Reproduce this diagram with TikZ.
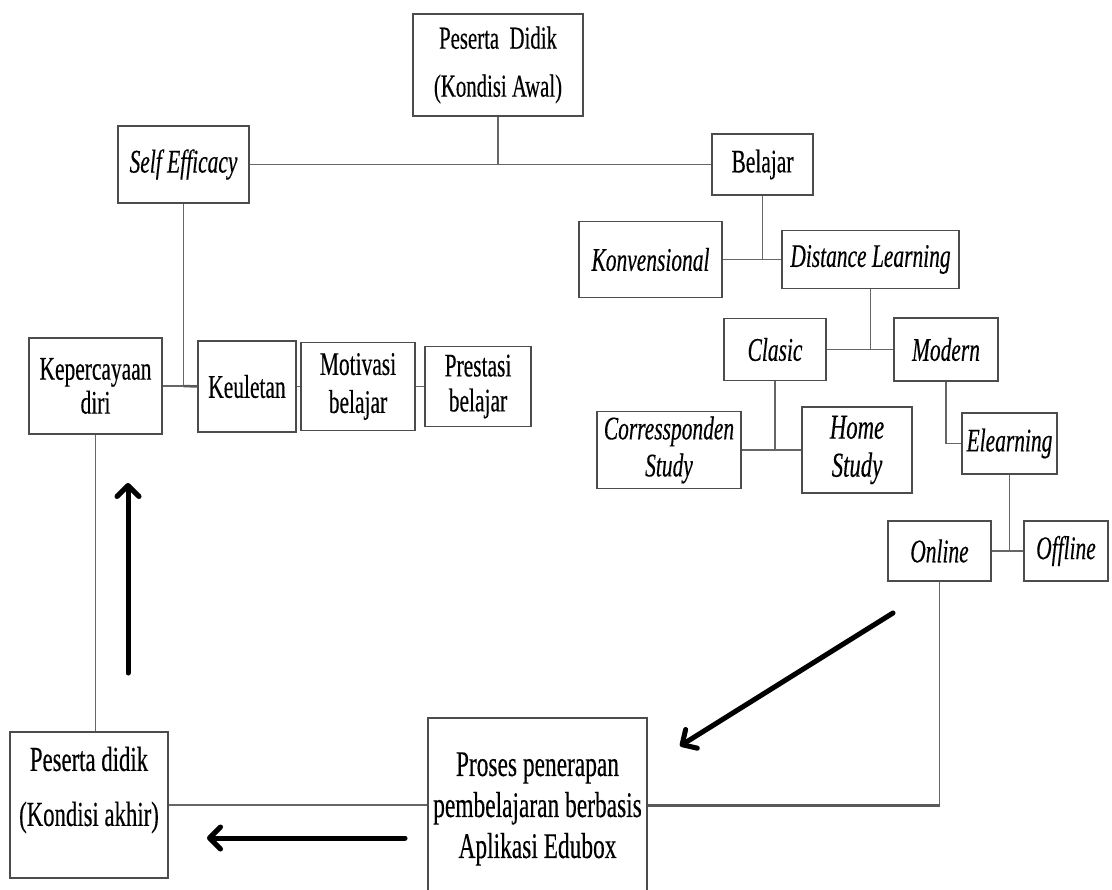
\documentclass[tikz,border=0pt]{standalone}
\usepackage{fontspec}
\setmainfont{Liberation Serif}[FakeStretch=0.65,FakeBold=0.3]
\usetikzlibrary{arrows.meta}
\newcommand\fsz[2]{\fontsize{#1}{#2}\selectfont}
\begin{document}
\begin{tikzpicture}[x=1pt,y=-1pt,
  box/.style={draw=black!70, line width=1.3pt, inner sep=0pt, align=center, font=\fsz{33}{38}},
  it/.style={font=\fsz{33}{38}\itshape},
  wh/.style 2 args={minimum width=#1pt, minimum height=#2pt},
  conn/.style={draw=black!60, line width=1.3pt},
  heavy/.style={draw=black!65, line width=3pt},
  bigarrow/.style={line width=5pt, line cap=round, -{Straight Barb[length=11pt,width=22pt,round]}},
  shade/.style={bigarrow, draw=black!25, opacity=0.5}]
\useasboundingbox (0,0) rectangle (1112,890);
\clip (0,0) rectangle (1112,890);
% nodes
\node[box,wh={170}{102},font=\fsz{32}{48}] (pda) at (498,65) {Peserta\ \ Didik\\(Kondisi Awal)};
\node[box,it,wh={131}{77}] (se) at (183.5,164.5) {Self Efficacy};
\node[box,wh={101}{61}] (bel) at (762.5,164.5) {Belajar};
\node[box,it,wh={143}{76}] (konv) at (650.5,259.5) {Konvensional};
\node[box,it,wh={177}{58}] (dl) at (870.5,259.5) {Distance Learning};
\node[box,it,wh={102}{62}] (cla) at (775,349.5) {Clasic};
\node[box,it,wh={104}{63}] (mod) at (946,349.5) {Modern};
\node[box,wh={144}{77},font=\fsz{33}{37}\itshape] (cor) at (669,450) {Corressponden\\Study};
\node[box,wh={110}{86},font=\fsz{35}{38}\itshape] (home) at (857,450) {Home\\Study};
\node[box,it,wh={95}{61}] (ele) at (1009.5,443.5) {Elearning};
\node[box,it,wh={103}{60}] (onl) at (939.5,551) {Online};
\node[box,it,wh={84}{60}] (off) at (1066,551) {Offline};
\node[box,wh={133}{96},font=\fsz{33}{34}] (kep) at (95.5,386) {Kepercayaan\\diri};
\node[box,wh={98}{91}] (keu) at (247,386.5) {Keuletan};
\node[box,wh={114}{88},font=\fsz{33}{38}] (mot) at (358,386.5) {Motivasi\\belajar};
\node[box,wh={106}{80},font=\fsz{33}{35}] (pre) at (478,386.5) {Prestasi\\belajar};
\node[box,wh={158}{146}] (pdk) at (89,805) {};
\node[align=center,font=\fsz{35}{55},inner sep=0pt] (pdkt) at (89,790) {Peserta didik\\(Kondisi akhir)};
\node[box,wh={219}{182},font=\fsz{36}{41}] (pro) at (537.5,809) {Proses penerapan\\pembelajaran berbasis\\Aplikasi Edubox};
% connectors
\draw[conn] (pda.south) -- (pda.south |- se.east);
\draw[conn] (se.east) -- (bel.west);
\draw[conn] (bel.south) -- (bel.south |- konv.east);
\draw[conn] (konv.east) -- (dl.west);
\draw[conn] (dl.south) -- (dl.south |- cla.east);
\draw[conn] (cla.east) -- (mod.west);
\draw[conn] (cla.south) -- (cla.south |- cor.east);
\draw[conn] (cor.east) -- (home.west);
\draw[conn] (mod.south) |- (ele.west);
\draw[conn] (ele.south) -- (ele.south |- onl.east);
\draw[conn] (onl.east) -- (off.west);
\coordinate (corner) at (onl.south |- pdk.east);
\draw[conn] (onl.south) -- (corner);
\draw[heavy] (corner) -- (corner -| pro.east);
\draw[conn] (pdk.east) -- (pdk.east -| pro.west);
\draw[conn] (kep.south) -- (kep.south |- pdk.north);
\coordinate (sej) at (se.south |- kep.east);
\draw[conn] (se.south) -- (sej);
\draw[conn] (kep.east) -- (sej);
\draw[heavy,line width=2.5pt] (sej) -- (keu.west);
\draw[conn] (keu.east) -- (mot.west);
\draw[conn] (mot.east) -- (pre.west);
% big arrows
\coordinate (u1) at (128,673); \coordinate (u2) at (128,483);
\coordinate (l1) at (405,838); \coordinate (l2) at (207,838);
\coordinate (d1) at (893,613); \coordinate (d2) at (680,746);
\begin{scope}[shift={(2,3)}]
\draw[shade] (u1) -- (u2);
\draw[shade] (l1) -- (l2);
\draw[shade] (d1) -- (d2);
\end{scope}
\draw[bigarrow] (u1) -- (u2);
\draw[bigarrow] (l1) -- (l2);
\draw[bigarrow] (d1) -- (d2);
\end{tikzpicture}
\end{document}
